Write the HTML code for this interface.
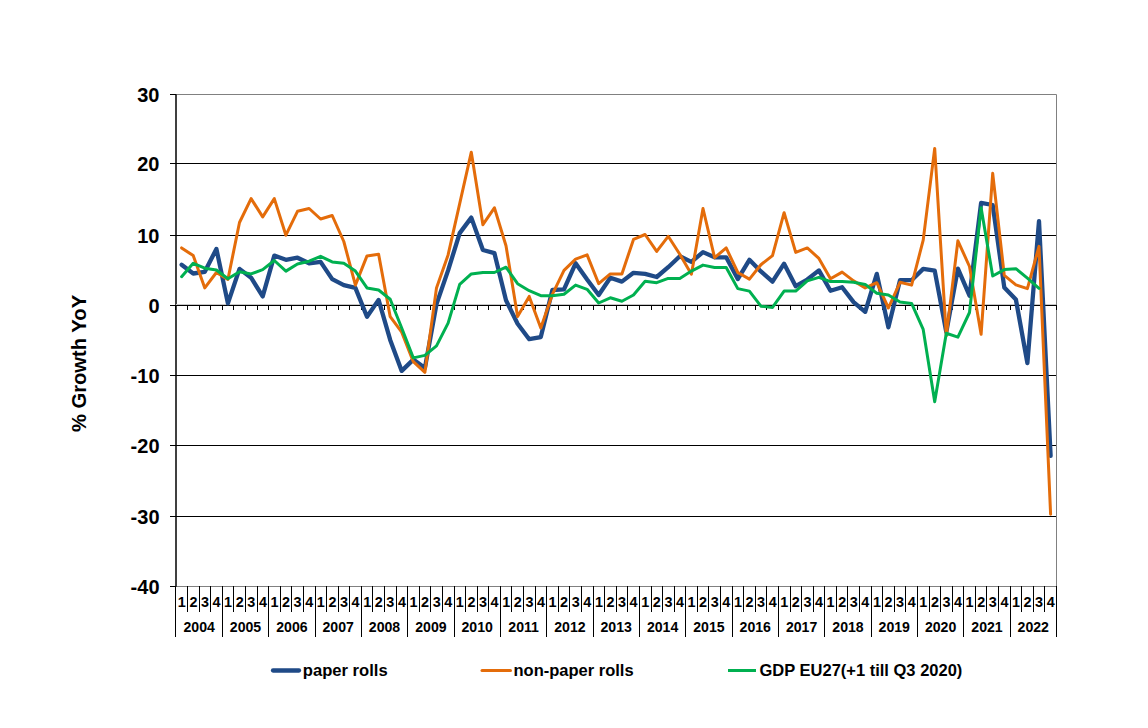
<!DOCTYPE html><html><head><meta charset="utf-8"><style>html,body{margin:0;padding:0;background:#fff;overflow:hidden}svg{display:block}text{font-family:"Liberation Sans",sans-serif;font-weight:bold;fill:#000}</style></head><body>
<svg width="1148" height="728" viewBox="0 0 1148 728">
<rect width="1148" height="728" fill="#fff"/>
<path d="M176,94.5H1056.5V586.5H176" fill="none" stroke="#808080" stroke-width="1"/>
<line x1="176" y1="94" x2="176" y2="587" stroke="#404040" stroke-width="2"/>
<line x1="176" y1="163.5" x2="1056" y2="163.5" stroke="#000" stroke-width="1"/>
<line x1="176" y1="235.5" x2="1056" y2="235.5" stroke="#000" stroke-width="1"/>
<line x1="176" y1="375.5" x2="1056" y2="375.5" stroke="#000" stroke-width="1"/>
<line x1="176" y1="445.5" x2="1056" y2="445.5" stroke="#000" stroke-width="1"/>
<line x1="176" y1="516.5" x2="1056" y2="516.5" stroke="#000" stroke-width="1"/>
<line x1="176" y1="304.5" x2="1056" y2="304.5" stroke="#c8c8c8" stroke-width="1"/>
<line x1="176" y1="305.5" x2="1056" y2="305.5" stroke="#000" stroke-width="1"/>
<line x1="170" y1="94.5" x2="176" y2="94.5" stroke="#000" stroke-width="1"/>
<text x="159.5" y="101.7" font-size="20" text-anchor="end">30</text>
<line x1="170" y1="163.5" x2="176" y2="163.5" stroke="#000" stroke-width="1"/>
<text x="159.5" y="170.7" font-size="20" text-anchor="end">20</text>
<line x1="170" y1="235.5" x2="176" y2="235.5" stroke="#000" stroke-width="1"/>
<text x="159.5" y="242.7" font-size="20" text-anchor="end">10</text>
<line x1="170" y1="305.5" x2="176" y2="305.5" stroke="#000" stroke-width="1"/>
<text x="159.5" y="312.7" font-size="20" text-anchor="end">0</text>
<line x1="170" y1="375.5" x2="176" y2="375.5" stroke="#000" stroke-width="1"/>
<text x="159.5" y="382.7" font-size="20" text-anchor="end">-10</text>
<line x1="170" y1="445.5" x2="176" y2="445.5" stroke="#000" stroke-width="1"/>
<text x="159.5" y="452.7" font-size="20" text-anchor="end">-20</text>
<line x1="170" y1="516.5" x2="176" y2="516.5" stroke="#000" stroke-width="1"/>
<text x="159.5" y="523.7" font-size="20" text-anchor="end">-30</text>
<line x1="170" y1="586.5" x2="176" y2="586.5" stroke="#000" stroke-width="1"/>
<text x="159.5" y="593.7" font-size="20" text-anchor="end">-40</text>
<path d="M175.5,305V310 M187.5,305V310 M199.5,305V310 M210.5,305V310 M222.5,305V310 M233.5,305V310 M245.5,305V310 M257.5,305V310 M268.5,305V310 M280.5,305V310 M291.5,305V310 M303.5,305V310 M315.5,305V310 M326.5,305V310 M338.5,305V310 M349.5,305V310 M361.5,305V310 M372.5,305V310 M384.5,305V310 M396.5,305V310 M407.5,305V310 M419.5,305V310 M430.5,305V310 M442.5,305V310 M454.5,305V310 M465.5,305V310 M477.5,305V310 M488.5,305V310 M500.5,305V310 M511.5,305V310 M523.5,305V310 M535.5,305V310 M546.5,305V310 M558.5,305V310 M569.5,305V310 M581.5,305V310 M593.5,305V310 M604.5,305V310 M616.5,305V310 M627.5,305V310 M639.5,305V310 M651.5,305V310 M662.5,305V310 M674.5,305V310 M685.5,305V310 M697.5,305V310 M708.5,305V310 M720.5,305V310 M732.5,305V310 M743.5,305V310 M755.5,305V310 M766.5,305V310 M778.5,305V310 M790.5,305V310 M801.5,305V310 M813.5,305V310 M824.5,305V310 M836.5,305V310 M847.5,305V310 M859.5,305V310 M871.5,305V310 M882.5,305V310 M894.5,305V310 M905.5,305V310 M917.5,305V310 M929.5,305V310 M940.5,305V310 M952.5,305V310 M963.5,305V310 M975.5,305V310 M986.5,305V310 M998.5,305V310 M1010.5,305V310 M1021.5,305V310 M1033.5,305V310 M1044.5,305V310 M1056.5,305V310" stroke="#000" stroke-width="1"/>
<path d="M175.5,586V637 M187.5,586V612 M199.5,586V612 M210.5,586V612 M222.5,586V637 M233.5,586V612 M245.5,586V612 M257.5,586V612 M268.5,586V637 M280.5,586V612 M291.5,586V612 M303.5,586V612 M315.5,586V637 M326.5,586V612 M338.5,586V612 M349.5,586V612 M361.5,586V637 M372.5,586V612 M384.5,586V612 M396.5,586V612 M407.5,586V637 M419.5,586V612 M430.5,586V612 M442.5,586V612 M454.5,586V637 M465.5,586V612 M477.5,586V612 M488.5,586V612 M500.5,586V637 M511.5,586V612 M523.5,586V612 M535.5,586V612 M546.5,586V637 M558.5,586V612 M569.5,586V612 M581.5,586V612 M593.5,586V637 M604.5,586V612 M616.5,586V612 M627.5,586V612 M639.5,586V637 M651.5,586V612 M662.5,586V612 M674.5,586V612 M685.5,586V637 M697.5,586V612 M708.5,586V612 M720.5,586V612 M732.5,586V637 M743.5,586V612 M755.5,586V612 M766.5,586V612 M778.5,586V637 M790.5,586V612 M801.5,586V612 M813.5,586V612 M824.5,586V637 M836.5,586V612 M847.5,586V612 M859.5,586V612 M871.5,586V637 M882.5,586V612 M894.5,586V612 M905.5,586V612 M917.5,586V637 M929.5,586V612 M940.5,586V612 M952.5,586V612 M963.5,586V637 M975.5,586V612 M986.5,586V612 M998.5,586V612 M1010.5,586V637 M1021.5,586V612 M1033.5,586V612 M1044.5,586V612 M1056.5,586V637" stroke="#000" stroke-width="1"/>
<text x="181.8" y="606.5" font-size="14.4" text-anchor="middle">1</text>
<text x="193.4" y="606.5" font-size="14.4" text-anchor="middle">2</text>
<text x="205.0" y="606.5" font-size="14.4" text-anchor="middle">3</text>
<text x="216.5" y="606.5" font-size="14.4" text-anchor="middle">4</text>
<text x="228.1" y="606.5" font-size="14.4" text-anchor="middle">1</text>
<text x="239.7" y="606.5" font-size="14.4" text-anchor="middle">2</text>
<text x="251.3" y="606.5" font-size="14.4" text-anchor="middle">3</text>
<text x="262.9" y="606.5" font-size="14.4" text-anchor="middle">4</text>
<text x="274.5" y="606.5" font-size="14.4" text-anchor="middle">1</text>
<text x="286.1" y="606.5" font-size="14.4" text-anchor="middle">2</text>
<text x="297.6" y="606.5" font-size="14.4" text-anchor="middle">3</text>
<text x="309.2" y="606.5" font-size="14.4" text-anchor="middle">4</text>
<text x="320.8" y="606.5" font-size="14.4" text-anchor="middle">1</text>
<text x="332.4" y="606.5" font-size="14.4" text-anchor="middle">2</text>
<text x="344.0" y="606.5" font-size="14.4" text-anchor="middle">3</text>
<text x="355.6" y="606.5" font-size="14.4" text-anchor="middle">4</text>
<text x="367.2" y="606.5" font-size="14.4" text-anchor="middle">1</text>
<text x="378.7" y="606.5" font-size="14.4" text-anchor="middle">2</text>
<text x="390.3" y="606.5" font-size="14.4" text-anchor="middle">3</text>
<text x="401.9" y="606.5" font-size="14.4" text-anchor="middle">4</text>
<text x="413.5" y="606.5" font-size="14.4" text-anchor="middle">1</text>
<text x="425.1" y="606.5" font-size="14.4" text-anchor="middle">2</text>
<text x="436.7" y="606.5" font-size="14.4" text-anchor="middle">3</text>
<text x="448.3" y="606.5" font-size="14.4" text-anchor="middle">4</text>
<text x="459.8" y="606.5" font-size="14.4" text-anchor="middle">1</text>
<text x="471.4" y="606.5" font-size="14.4" text-anchor="middle">2</text>
<text x="483.0" y="606.5" font-size="14.4" text-anchor="middle">3</text>
<text x="494.6" y="606.5" font-size="14.4" text-anchor="middle">4</text>
<text x="506.2" y="606.5" font-size="14.4" text-anchor="middle">1</text>
<text x="517.8" y="606.5" font-size="14.4" text-anchor="middle">2</text>
<text x="529.4" y="606.5" font-size="14.4" text-anchor="middle">3</text>
<text x="540.9" y="606.5" font-size="14.4" text-anchor="middle">4</text>
<text x="552.5" y="606.5" font-size="14.4" text-anchor="middle">1</text>
<text x="564.1" y="606.5" font-size="14.4" text-anchor="middle">2</text>
<text x="575.7" y="606.5" font-size="14.4" text-anchor="middle">3</text>
<text x="587.3" y="606.5" font-size="14.4" text-anchor="middle">4</text>
<text x="598.9" y="606.5" font-size="14.4" text-anchor="middle">1</text>
<text x="610.5" y="606.5" font-size="14.4" text-anchor="middle">2</text>
<text x="622.0" y="606.5" font-size="14.4" text-anchor="middle">3</text>
<text x="633.6" y="606.5" font-size="14.4" text-anchor="middle">4</text>
<text x="645.2" y="606.5" font-size="14.4" text-anchor="middle">1</text>
<text x="656.8" y="606.5" font-size="14.4" text-anchor="middle">2</text>
<text x="668.4" y="606.5" font-size="14.4" text-anchor="middle">3</text>
<text x="680.0" y="606.5" font-size="14.4" text-anchor="middle">4</text>
<text x="691.6" y="606.5" font-size="14.4" text-anchor="middle">1</text>
<text x="703.1" y="606.5" font-size="14.4" text-anchor="middle">2</text>
<text x="714.7" y="606.5" font-size="14.4" text-anchor="middle">3</text>
<text x="726.3" y="606.5" font-size="14.4" text-anchor="middle">4</text>
<text x="737.9" y="606.5" font-size="14.4" text-anchor="middle">1</text>
<text x="749.5" y="606.5" font-size="14.4" text-anchor="middle">2</text>
<text x="761.1" y="606.5" font-size="14.4" text-anchor="middle">3</text>
<text x="772.7" y="606.5" font-size="14.4" text-anchor="middle">4</text>
<text x="784.2" y="606.5" font-size="14.4" text-anchor="middle">1</text>
<text x="795.8" y="606.5" font-size="14.4" text-anchor="middle">2</text>
<text x="807.4" y="606.5" font-size="14.4" text-anchor="middle">3</text>
<text x="819.0" y="606.5" font-size="14.4" text-anchor="middle">4</text>
<text x="830.6" y="606.5" font-size="14.4" text-anchor="middle">1</text>
<text x="842.2" y="606.5" font-size="14.4" text-anchor="middle">2</text>
<text x="853.8" y="606.5" font-size="14.4" text-anchor="middle">3</text>
<text x="865.3" y="606.5" font-size="14.4" text-anchor="middle">4</text>
<text x="876.9" y="606.5" font-size="14.4" text-anchor="middle">1</text>
<text x="888.5" y="606.5" font-size="14.4" text-anchor="middle">2</text>
<text x="900.1" y="606.5" font-size="14.4" text-anchor="middle">3</text>
<text x="911.7" y="606.5" font-size="14.4" text-anchor="middle">4</text>
<text x="923.3" y="606.5" font-size="14.4" text-anchor="middle">1</text>
<text x="934.9" y="606.5" font-size="14.4" text-anchor="middle">2</text>
<text x="946.4" y="606.5" font-size="14.4" text-anchor="middle">3</text>
<text x="958.0" y="606.5" font-size="14.4" text-anchor="middle">4</text>
<text x="969.6" y="606.5" font-size="14.4" text-anchor="middle">1</text>
<text x="981.2" y="606.5" font-size="14.4" text-anchor="middle">2</text>
<text x="992.8" y="606.5" font-size="14.4" text-anchor="middle">3</text>
<text x="1004.4" y="606.5" font-size="14.4" text-anchor="middle">4</text>
<text x="1016.0" y="606.5" font-size="14.4" text-anchor="middle">1</text>
<text x="1027.5" y="606.5" font-size="14.4" text-anchor="middle">2</text>
<text x="1039.1" y="606.5" font-size="14.4" text-anchor="middle">3</text>
<text x="1050.7" y="606.5" font-size="14.4" text-anchor="middle">4</text>
<text x="199.2" y="631.5" font-size="14.1" text-anchor="middle">2004</text>
<text x="245.5" y="631.5" font-size="14.1" text-anchor="middle">2005</text>
<text x="291.9" y="631.5" font-size="14.1" text-anchor="middle">2006</text>
<text x="338.2" y="631.5" font-size="14.1" text-anchor="middle">2007</text>
<text x="384.5" y="631.5" font-size="14.1" text-anchor="middle">2008</text>
<text x="430.9" y="631.5" font-size="14.1" text-anchor="middle">2009</text>
<text x="477.2" y="631.5" font-size="14.1" text-anchor="middle">2010</text>
<text x="523.6" y="631.5" font-size="14.1" text-anchor="middle">2011</text>
<text x="569.9" y="631.5" font-size="14.1" text-anchor="middle">2012</text>
<text x="616.2" y="631.5" font-size="14.1" text-anchor="middle">2013</text>
<text x="662.6" y="631.5" font-size="14.1" text-anchor="middle">2014</text>
<text x="708.9" y="631.5" font-size="14.1" text-anchor="middle">2015</text>
<text x="755.3" y="631.5" font-size="14.1" text-anchor="middle">2016</text>
<text x="801.6" y="631.5" font-size="14.1" text-anchor="middle">2017</text>
<text x="848.0" y="631.5" font-size="14.1" text-anchor="middle">2018</text>
<text x="894.3" y="631.5" font-size="14.1" text-anchor="middle">2019</text>
<text x="940.6" y="631.5" font-size="14.1" text-anchor="middle">2020</text>
<text x="987.0" y="631.5" font-size="14.1" text-anchor="middle">2021</text>
<text x="1033.3" y="631.5" font-size="14.1" text-anchor="middle">2022</text>
<text transform="translate(86,363.5) rotate(-90)" font-size="20.2" text-anchor="middle">% Growth YoY</text>
<path d="M181.6,264.7 L193.2,273.5 L204.8,271.8 L216.4,248.9 L227.9,303.4 L239.5,268.9 L251.1,277.7 L262.7,296.4 L274.3,255.6 L285.9,259.8 L297.5,257.7 L309.1,263.3 L320.6,261.9 L332.2,279.1 L343.8,285.1 L355.4,287.9 L367.0,316.7 L378.6,299.9 L390.2,339.9 L401.7,370.9 L413.3,359.6 L424.9,368.1 L436.5,304.1 L448.1,270.4 L459.7,233.1 L471.3,217.6 L482.9,250.0 L494.4,253.1 L506.0,300.2 L517.6,323.8 L529.2,339.2 L540.8,337.1 L552.4,290.0 L564.0,289.3 L575.6,263.3 L587.1,279.5 L598.7,295.0 L610.3,277.7 L621.9,281.6 L633.5,272.8 L645.1,273.9 L656.7,277.0 L668.2,267.2 L679.8,256.3 L691.4,261.9 L703.0,252.1 L714.6,257.3 L726.2,257.3 L737.8,279.1 L749.4,259.8 L760.9,271.4 L772.5,281.6 L784.1,263.7 L795.7,286.2 L807.3,279.5 L818.9,270.4 L830.5,290.7 L842.1,287.2 L853.6,302.1 L865.2,311.8 L876.8,273.9 L888.4,327.3 L900.0,280.2 L911.6,280.2 L923.2,268.9 L934.7,270.7 L946.3,332.2 L957.9,268.6 L969.5,295.7 L981.1,202.9 L992.7,205.0 L1004.3,287.5 L1015.9,299.5 L1027.4,363.1 L1039.0,221.1 L1050.6,455.9" fill="none" stroke="#1F4A87" stroke-width="4.3" stroke-linejoin="round" stroke-linecap="round"/>
<path d="M181.6,247.9 L193.2,255.6 L204.8,287.9 L216.4,272.5 L227.9,279.5 L239.5,222.5 L251.1,198.6 L262.7,216.9 L274.3,198.6 L285.9,235.2 L297.5,211.3 L309.1,208.5 L320.6,219.0 L332.2,215.5 L343.8,241.5 L355.4,285.1 L367.0,255.9 L378.6,254.2 L390.2,316.7 L401.7,332.2 L413.3,361.7 L424.9,372.3 L436.5,287.9 L448.1,254.9 L459.7,203.6 L471.3,152.2 L482.9,224.7 L494.4,207.8 L506.0,245.7 L517.6,316.4 L529.2,296.4 L540.8,328.0 L552.4,294.3 L564.0,270.4 L575.6,259.1 L587.1,254.9 L598.7,283.7 L610.3,273.9 L621.9,273.9 L633.5,239.4 L645.1,234.5 L656.7,251.4 L668.2,236.3 L679.8,254.2 L691.4,274.2 L703.0,208.5 L714.6,257.7 L726.2,247.9 L737.8,272.5 L749.4,279.1 L760.9,264.7 L772.5,255.6 L784.1,212.7 L795.7,252.4 L807.3,247.9 L818.9,258.4 L830.5,278.8 L842.1,272.1 L853.6,280.9 L865.2,287.9 L876.8,282.7 L888.4,308.0 L900.0,282.3 L911.6,285.1 L923.2,240.1 L934.7,148.4 L946.3,335.7 L957.9,240.8 L969.5,266.5 L981.1,334.3 L992.7,173.3 L1004.3,275.3 L1015.9,284.8 L1027.4,288.6 L1039.0,246.4 L1050.6,514.3" fill="none" stroke="#E46C0A" stroke-width="3" stroke-linejoin="round" stroke-linecap="round"/>
<path d="M181.6,276.7 L193.2,263.3 L204.8,268.2 L216.4,270.0 L227.9,278.8 L239.5,271.8 L251.1,273.9 L262.7,269.6 L274.3,260.5 L285.9,271.1 L297.5,264.0 L309.1,261.2 L320.6,256.3 L332.2,261.9 L343.8,263.3 L355.4,271.1 L367.0,287.9 L378.6,290.0 L390.2,299.2 L401.7,328.0 L413.3,357.9 L424.9,355.4 L436.5,345.9 L448.1,323.1 L459.7,284.4 L471.3,273.9 L482.9,272.5 L494.4,272.5 L506.0,267.2 L517.6,283.7 L529.2,290.7 L540.8,295.7 L552.4,295.7 L564.0,294.3 L575.6,285.1 L587.1,289.3 L598.7,303.0 L610.3,297.8 L621.9,301.3 L633.5,295.0 L645.1,281.2 L656.7,282.7 L668.2,278.4 L679.8,278.4 L691.4,271.1 L703.0,265.1 L714.6,267.5 L726.2,267.5 L737.8,288.6 L749.4,291.1 L760.9,306.2 L772.5,307.4 L784.1,291.1 L795.7,291.1 L807.3,280.9 L818.9,277.4 L830.5,281.6 L842.1,281.6 L853.6,282.3 L865.2,284.4 L876.8,293.2 L888.4,295.0 L900.0,302.0 L911.6,303.4 L923.2,329.4 L934.7,401.8 L946.3,333.3 L957.9,337.1 L969.5,312.5 L981.1,207.8 L992.7,276.0 L1004.3,269.6 L1015.9,268.7 L1027.4,278.1 L1039.0,288.3" fill="none" stroke="#00B050" stroke-width="3" stroke-linejoin="round" stroke-linecap="round"/>
<line x1="273" y1="670.5" x2="299" y2="670.5" stroke="#1F4A87" stroke-width="4.3" stroke-linecap="round"/>
<text x="302.8" y="675.5" font-size="16.6">paper rolls</text>
<line x1="482" y1="670.5" x2="510.5" y2="670.5" stroke="#E46C0A" stroke-width="3" stroke-linecap="round"/>
<text x="513.5" y="675.5" font-size="16.5">non-paper rolls</text>
<line x1="728" y1="670.5" x2="756" y2="670.5" stroke="#00B050" stroke-width="3"/>
<text x="759.5" y="675.5" font-size="16.5">GDP EU27(+1 till Q3 2020)</text>
</svg></body></html>
